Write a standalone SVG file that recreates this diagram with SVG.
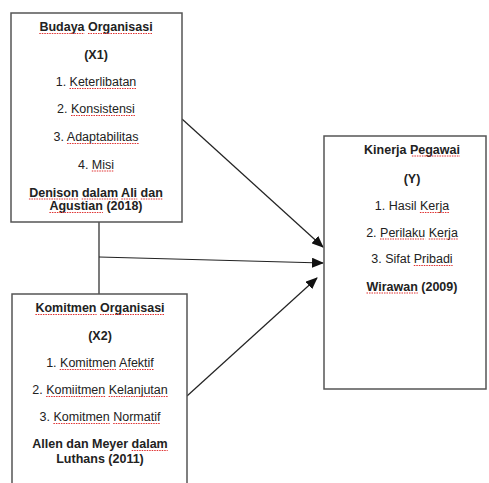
<svg xmlns="http://www.w3.org/2000/svg" width="489" height="483" viewBox="0 0 489 483">
<style>
.box{fill:#fff;stroke:#555;stroke-width:1.5}
text{font-family:"Liberation Sans",Arial,sans-serif;font-size:12.5px;fill:#222;text-anchor:middle}
.b{font-weight:bold}
.sq{stroke:#e03030;stroke-width:1.2;stroke-dasharray:1.5 1}
.con{stroke:#222;stroke-width:1.2;fill:none}
</style>
<defs>
<marker id="ah" markerUnits="userSpaceOnUse" markerWidth="12" markerHeight="10" refX="11" refY="5" orient="auto">
<path d="M0,0 L12,5 L0,10 Z" fill="#111"/>
</marker>
</defs>
<rect width="489" height="483" fill="#fff"/>
<g id="connectors">
<line class="con" x1="99" y1="222" x2="99" y2="294"/>
<line class="con" x1="99" y1="257" x2="323" y2="263" marker-end="url(#ah)"/>
<line class="con" x1="182" y1="119" x2="323" y2="247" marker-end="url(#ah)"/>
<line class="con" x1="187" y1="396" x2="317" y2="278" marker-end="url(#ah)"/>
</g>
<g id="x1">
<rect class="box" x="11" y="13" width="171" height="209"/>
<text class="b" x="96" y="31">Budaya Organisasi</text>
<text class="b" x="96" y="58.5">(X1)</text>
<text x="96" y="86">1. Keterlibatan</text>
<text x="96" y="113">2. Konsistensi</text>
<text x="96" y="141">3. Adaptabilitas</text>
<text x="96" y="168.5">4. Misi</text>
<text class="b" x="96" y="196.5">Denison dalam Ali dan</text>
<text class="b" x="96" y="210">Agustian (2018)</text>
<g class="sq">
<line x1="39.3" y1="33.5" x2="84.5" y2="33.5"/><line x1="88" y1="33.5" x2="152.6" y2="33.5"/>
<line x1="69.5" y1="88.5" x2="136.2" y2="88.5"/>
<line x1="71" y1="115.5" x2="134.9" y2="115.5"/>
<line x1="67.1" y1="143.5" x2="138.7" y2="143.5"/>
<line x1="91.8" y1="171" x2="114" y2="171"/>
<line x1="28.9" y1="199" x2="78.3" y2="199"/><line x1="81.7" y1="199" x2="117.9" y2="199"/><line x1="121.3" y1="199" x2="137.3" y2="199"/><line x1="140.8" y1="199" x2="163" y2="199"/>
<line x1="49.4" y1="212.5" x2="102.9" y2="212.5"/>
</g>
</g>
<g id="x2">
<rect class="box" x="12" y="294" width="175" height="200"/>
<text class="b" x="100" y="312">Komitmen Organisasi</text>
<text class="b" x="100" y="340">(X2)</text>
<text x="100" y="367">1. Komitmen Afektif</text>
<text x="100" y="394">2. Komiitmen Kelanjutan</text>
<text x="100" y="421">3. Komitmen Normatif</text>
<text class="b" x="100" y="448">Allen dan Meyer dalam</text>
<text class="b" x="100" y="463">Luthans (2011)</text>
<g class="sq">
<line x1="35.4" y1="314.5" x2="96.6" y2="314.5"/><line x1="100" y1="314.5" x2="164.6" y2="314.5"/>
<line x1="59.7" y1="369.5" x2="115.9" y2="369.5"/><line x1="119.5" y1="369.5" x2="154.2" y2="369.5"/>
<line x1="46.1" y1="396.5" x2="105.2" y2="396.5"/><line x1="108.6" y1="396.5" x2="167.7" y2="396.5"/>
<line x1="53.4" y1="423.5" x2="109.7" y2="423.5"/><line x1="113.2" y1="423.5" x2="160.4" y2="423.5"/>
<line x1="131.7" y1="450.5" x2="167.7" y2="450.5"/>
</g>
</g>
<g id="y">
<rect class="box" x="324" y="136" width="162" height="253"/>
<text class="b" x="412" y="153.5">Kinerja Pegawai</text>
<text class="b" x="412" y="183">(Y)</text>
<text x="412" y="210">1. Hasil Kerja</text>
<text x="412" y="236.5">2. Perilaku Kerja</text>
<text x="412" y="263">3. Sifat Pribadi</text>
<text class="b" x="412" y="290.5">Wirawan (2009)</text>
<g class="sq">
<line x1="411.9" y1="156" x2="459.9" y2="156"/>
<line x1="419.9" y1="212.5" x2="449.1" y2="212.5"/>
<line x1="380" y1="239" x2="425.2" y2="239"/><line x1="428.7" y1="239" x2="457.8" y2="239"/>
<line x1="413.8" y1="265.5" x2="452.6" y2="265.5"/>
<line x1="366.5" y1="293" x2="417.8" y2="293"/>
</g>
</g>
</svg>
